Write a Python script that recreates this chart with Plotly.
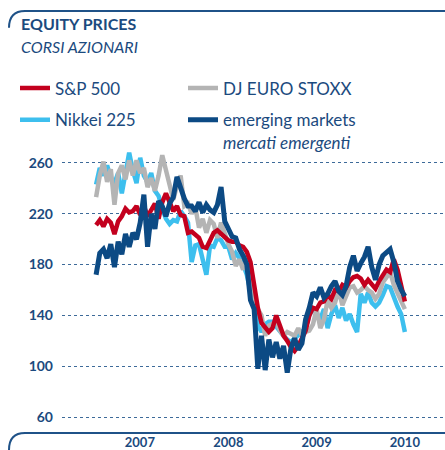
import pandas as pd
import plotly.graph_objects as go

# ---- data ----
dates = pd.date_range("2007-01-01", "2010-07-01", periods=85)

sp500 = [211, 215, 210, 216, 213, 204, 214, 218, 224, 221, 222, 226, 219, 226, 218, 223, 228, 216, 229, 236,
         230, 222, 226, 219, 218, 205, 206, 204, 201, 194, 193, 199, 205, 207, 204, 201, 199, 198, 198, 195,
         194, 190, 182, 164, 146, 134, 130, 127, 130, 140, 132, 124, 120, 115, 112, 116, 122, 128, 140, 146,
         145, 150, 151, 156, 153, 160, 159, 164, 162, 167, 170, 171, 169, 164, 168, 165, 161, 167, 172, 176,
         174, 184, 176, 164, 151]

eurostoxx = [233, 250, 261, 245, 255, 227, 252, 258, 247, 262, 250, 262, 252, 256, 241, 248, 238, 250, 266, 254,
             244, 231, 242, 250, 226, 228, 220, 225, 209, 216, 205, 215, 212, 201, 213, 204, 196, 190, 179, 184,
             176, 187, 163, 147, 145, 140, 124, 132, 134, 135, 128, 124, 127, 125, 124, 130, 124, 127, 128, 133,
             145, 130, 137, 152, 146, 150, 160, 148, 155, 162, 163, 158, 160, 163, 160, 158, 153, 157, 166, 170,
             174, 164, 158, 150, 145]

nikkei = [243, 256, 250, 258, 248, 244, 252, 236, 252, 268, 254, 244, 264, 250, 245, 252, 238, 234, 224, 216,
          212, 215, 214, 222, 218, 213, 182, 195, 196, 184, 172, 195, 194, 201, 199, 194, 194, 184, 189, 185,
          180, 172, 160, 146, 132, 127, 133, 135, 135, 131, 127, 124, 121, 119, 122, 124, 127, 130, 140, 146,
          141, 137, 145, 130, 141, 148, 138, 146, 136, 141, 133, 127, 157, 150, 158, 150, 147, 150, 156, 163,
          162, 154, 147, 141, 127]

emerging = [172, 189, 192, 185, 196, 178, 198, 188, 204, 194, 205, 200, 213, 235, 194, 220, 208, 230, 226, 218,
            228, 233, 249, 240, 232, 226, 226, 222, 229, 221, 227, 223, 221, 227, 241, 214, 208, 202, 201, 192,
            187, 180, 152, 145, 98, 124, 97, 121, 107, 119, 106, 116, 95, 114, 122, 113, 118, 137, 146, 158,
            155, 162, 154, 157, 163, 167, 159, 156, 163, 178, 187, 175, 181, 186, 194, 178, 168, 180, 187, 190,
            192, 182, 167, 160, 155]

year_ticks = ["2007-07-01", "2008-07-01", "2009-07-01", "2010-07-01"]
year_labels = ["2007", "2008", "2009", "2010"]
y_ticks = [60, 100, 140, 180, 220, 260]

NAVY = "#1b4a7e"
RED = "#c3001e"
GREY = "#b4b4b4"
LIGHT = "#3dbfee"
DARK = "#0c4a84"

fig = go.Figure()
fig.add_trace(go.Scatter(x=dates, y=nikkei, mode="lines", name="Nikkei 225",
                         line=dict(color=LIGHT, width=4.5), legend="legend3"))
fig.add_trace(go.Scatter(x=dates, y=eurostoxx, mode="lines", name="DJ EURO STOXX",
                         line=dict(color=GREY, width=4.5), legend="legend2"))
fig.add_trace(go.Scatter(x=dates, y=sp500, mode="lines", name="S&P 500",
                         line=dict(color=RED, width=4.5), legend="legend"))
fig.add_trace(go.Scatter(x=dates, y=emerging, mode="lines",
                         name="emerging markets<br><i>mercati emergenti</i>",
                         line=dict(color=DARK, width=5), legend="legend4"))

def px_x(px):
    return (px - 62) / 383.0

def px_y(py):
    return (435 - py) / 290.0

legend_common = dict(bgcolor="rgba(0,0,0,0)", font=dict(family="Lato", size=17, color=NAVY),
                     xanchor="left", itemclick=False, itemdoubleclick=False)

fig.update_layout(
    width=445, height=450,
    margin=dict(l=62, r=0, t=145, b=15),
    plot_bgcolor="white", paper_bgcolor="white",
    font=dict(family="Lato", color=NAVY),
    showlegend=True,
    legend=dict(**legend_common, x=px_x(15), y=px_y(88), yanchor="middle"),
    legend2=dict(**legend_common, x=px_x(183), y=px_y(88), yanchor="middle"),
    legend3=dict(**legend_common, x=px_x(15), y=px_y(120), yanchor="middle"),
    legend4=dict(**legend_common, x=px_x(183), y=px_y(102), yanchor="top", valign="top"),
    xaxis=dict(type="date", range=["2006-08-13", "2010-12-14"], tickvals=year_ticks,
               ticktext=year_labels, showgrid=False, zeroline=False, showline=False, ticks="",
               tickfont=dict(family="Lato", size=13, color=NAVY, weight="bold")),
    yaxis=dict(range=[47.5, 274.06], tickvals=y_ticks, showgrid=True, gridcolor="#3d6a99",
               griddash="3px,3px", gridwidth=1, zeroline=False, showline=False, ticks="",
               ticklabelstandoff=8,
               tickfont=dict(family="Lato", size=14, color=NAVY, weight="bold")),
    annotations=[
        dict(text="<b>EQUITY PRICES</b>", xref="paper", yref="paper", x=px_x(19), y=px_y(23),
             xanchor="left", yanchor="middle", showarrow=False,
             font=dict(family="Lato", size=16, color=NAVY)),
        dict(text="<i>CORSI AZIONARI</i>", xref="paper", yref="paper", x=px_x(19), y=px_y(46),
             xanchor="left", yanchor="middle", showarrow=False,
             font=dict(family="Lato", size=16, color=NAVY)),
    ],
    shapes=[
        dict(type="path", xref="paper", yref="paper",
             path=f"M {px_x(9)},{px_y(27)} Q {px_x(9)},{px_y(10)} {px_x(25)},{px_y(10)} L 1,{px_y(10)}",
             line=dict(color="#1f5288", width=2)),
        dict(type="path", xref="paper", yref="paper",
             path=f"M 1,{px_y(435)} L {px_x(25)},{px_y(435)} Q {px_x(9)},{px_y(435)} {px_x(9)},{px_y(452)}",
             line=dict(color="#1f5288", width=2)),
    ],
)

fig.write_html("out.html", config={"displayModeBar": False},
               post_script="document.body.style.margin='0';document.body.style.overflow='hidden';")
